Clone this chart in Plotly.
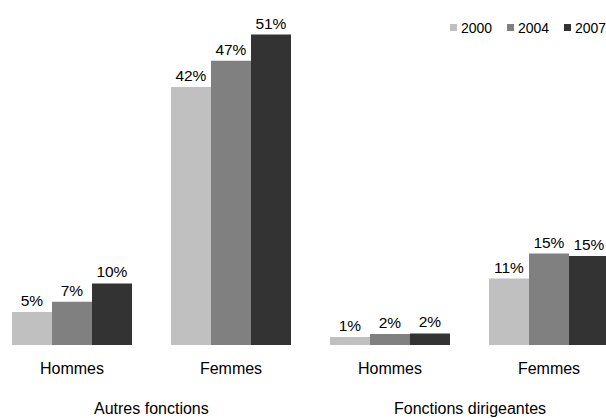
import plotly.graph_objects as go

categories = ["Hommes", "Femmes", "Hommes", "Femmes"]
groups = ["Autres fonctions", "Fonctions dirigeantes"]
series_names = ["2000", "2004", "2007"]
values_2000 = [5.4, 42.3, 1.3, 10.9]
values_2004 = [7.1, 46.6, 1.8, 15.0]
values_2007 = [10.1, 50.9, 1.9, 14.6]
labels_2000 = ["5%", "42%", "1%", "11%"]
labels_2004 = ["7%", "47%", "2%", "15%"]
labels_2007 = ["10%", "51%", "2%", "15%"]
colors = ["#c0c0c0", "#808080", "#333333"]

FONT = "Liberation Sans, Arial, sans-serif"
x_idx = list(range(len(categories)))

fig = go.Figure()
for name, vals, labs, col in zip(series_names,
                                 [values_2000, values_2004, values_2007],
                                 [labels_2000, labels_2004, labels_2007],
                                 colors):
    fig.add_trace(go.Bar(
        x=x_idx, y=vals, name=name, text=labs,
        textposition="outside", cliponaxis=False,
        textfont=dict(family=FONT, size=15.5, color="#000000"),
        marker=dict(color=col, line=dict(width=0)),
        showlegend=False,
    ))

# Group labels
for i, g in enumerate(groups):
    fig.add_annotation(x=2 * i + 0.5, xref="x", y=0, yref="paper",
                       yshift=-63, yanchor="middle", showarrow=False,
                       text=g, font=dict(family=FONT, size=16, color="#000000"))

# Legend built from annotations (colour square + label)
legend_sq_x = [450, 507, 563.5]
legend_y = 1 - 27.5 / 345
for name, col, lx in zip(series_names, colors, legend_sq_x):
    fig.add_annotation(x=lx / 606, xref="paper", y=legend_y, yref="paper",
                       xanchor="left", yanchor="middle", showarrow=False,
                       text="", width=7, height=7, bgcolor=col, borderpad=0,
                       borderwidth=0)
    fig.add_annotation(x=(lx + 10) / 606, xref="paper", y=legend_y, yref="paper",
                       xanchor="left", yanchor="middle", showarrow=False,
                       text=name, borderpad=0,
                       font=dict(family=FONT, size=14, color="#000000"))

fig.update_layout(
    width=606, height=418,
    margin=dict(l=0, r=0, t=0, b=73),
    paper_bgcolor="white", plot_bgcolor="white",
    barmode="group", bargap=0.2453, bargroupgap=0,
    xaxis=dict(range=[-72 / 159, (606 - 72) / 159], tickvals=x_idx,
               ticktext=categories, showgrid=False, zeroline=False,
               showline=False, ticks="", ticklabelstandoff=12,
               tickfont=dict(family=FONT, size=16, color="#000000")),
    yaxis=dict(range=[0, 345 / 6.1], visible=False, showgrid=False),
    showlegend=False,
)
fig.write_html("out.html", config={"displayModeBar": False},
               post_script="document.body.style.margin='0';document.body.style.overflow='hidden';")
